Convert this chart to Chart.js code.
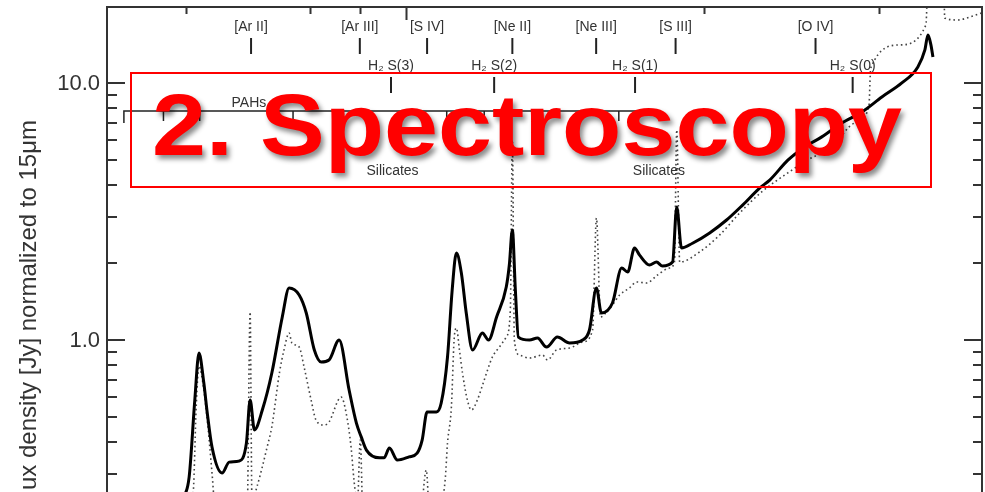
<!DOCTYPE html>
<html>
<head>
<meta charset="utf-8">
<script src="https://cdn.jsdelivr.net/npm/chart.js@4.4.1/dist/chart.umd.min.js"></script>
<style>
  html, body { margin: 0; padding: 0; background: #fff; overflow: hidden; }
  #spec { display: block; }
</style>
</head>
<body>
<canvas id="spec" width="985" height="492"></canvas>
<script>
// spectrum (wavelength in micron, flux normalized to 15 micron)
var solidWave = [5.95, 6.05, 6.13, 6.19, 6.26, 6.31, 6.38, 6.53, 6.64, 6.79, 6.91, 6.97, 7.04, 7.17, 7.33, 7.51, 7.63, 7.81, 7.94, 8.09, 8.22, 8.37, 8.57, 8.77, 8.92, 9.02, 9.13, 9.41, 9.51, 9.63, 9.81, 10.08, 10.27, 10.39, 10.51, 10.74, 10.86, 11.02, 11.14, 11.25, 11.38, 11.51, 11.68, 11.95, 12.12, 12.35, 12.63, 12.72, 12.81, 12.90, 12.99, 13.33, 13.58, 13.87, 14.22, 14.63, 15.08, 15.32, 15.57, 15.75, 16.16, 16.51, 16.74, 17.01, 17.21, 17.61, 17.90, 18.15, 18.58, 18.76, 18.97, 19.46, 20.25, 21.06, 21.86, 22.74, 23.28, 24.28, 25.25, 26.27, 27.52, 28.83, 30.20, 31.63, 32.83, 33.37, 33.61, 33.84, 34.00];
var solidFlux = [0.238, 0.293, 0.584, 0.890, 0.680, 0.520, 0.383, 0.304, 0.335, 0.338, 0.397, 0.584, 0.447, 0.534, 0.744, 1.229, 1.594, 1.497, 1.274, 0.914, 0.821, 0.836, 1.0, 0.639, 0.475, 0.420, 0.373, 0.348, 0.348, 0.380, 0.341, 0.351, 0.363, 0.408, 0.525, 0.525, 0.569, 0.859, 1.565, 2.18, 1.823, 1.274, 0.914, 1.065, 1.0, 1.229, 1.608, 1.958, 2.68, 1.565, 1.027, 1.0, 1.018, 0.939, 1.027, 0.973, 1.0, 1.094, 1.594, 1.274, 1.393, 1.905, 1.839, 2.28, 2.14, 1.958, 2.01, 1.94, 2.01, 3.29, 2.28, 2.38, 2.61, 2.93, 3.35, 3.90, 4.19, 5.01, 5.64, 6.17, 6.99, 7.71, 8.82, 10.0, 11.54, 13.44, 15.37, 14.06, 12.62];

var dotWave = [5.91, 6.11, 6.15, 6.19, 6.26, 6.32, 6.38, 6.44, 6.71, 6.92, 6.97, 7.00, 7.09, 7.17, 7.25, 7.33, 7.46, 7.54, 7.63, 7.68, 7.81, 7.90, 8.03, 8.12, 8.28, 8.37, 8.61, 8.71, 8.81, 8.87, 8.94, 9.00, 9.06, 9.63, 10.32, 10.49, 10.59, 10.81, 10.96, 11.02, 11.12, 11.19, 11.25, 11.33, 11.41, 11.54, 11.65, 11.81, 12.00, 12.23, 12.43, 12.63, 12.75, 12.81, 12.87, 13.02, 13.33, 13.74, 13.90, 14.19, 14.63, 15.08, 15.43, 15.57, 15.72, 15.94, 16.16, 16.43, 16.81, 17.09, 17.49, 17.94, 18.45, 18.66, 18.76, 18.89, 19.78, 20.72, 21.71, 22.85, 24.28, 25.42, 26.89, 28.36, 29.30, 29.43, 31.48, 33.45, 33.61, 34.86, 34.94, 36.03, 37.05, 38.08];
var dotFlux = [0.139, 0.261, 0.549, 0.792, 0.639, 0.459, 0.304, 0.199, 0.167, 0.199, 1.285, 0.238, 0.273, 0.321, 0.383, 0.459, 0.744, 0.914, 1.065, 0.973, 0.939, 0.785, 0.584, 0.489, 0.467, 0.480, 0.600, 0.520, 0.383, 0.285, 0.228, 0.408, 0.199, 0.167, 0.182, 0.312, 0.182, 0.209, 0.285, 0.397, 0.549, 1.0, 1.113, 0.914, 0.744, 0.584, 0.534, 0.584, 0.699, 0.859, 0.939, 1.027, 1.309, 6.0, 1.0, 0.874, 0.851, 0.874, 0.836, 0.914, 0.931, 0.982, 1.094, 2.98, 1.229, 1.285, 1.368, 1.497, 1.594, 1.682, 1.667, 1.790, 1.905, 2.01, 6.56, 2.01, 2.20, 2.56, 3.12, 3.77, 4.47, 5.02, 5.64, 6.99, 8.07, 11.44, 14.06, 16.82, 25.2, 25.2, 17.9, 17.58, 18.06, 18.72];

// line identifications
var ionNames = ['[Ar II]', '[Ar III]', '[S IV]', '[Ne II]', '[Ne III]', '[S III]', '[O IV]'];
var ionWave = [6.985, 8.991, 10.51, 12.81, 15.56, 18.71, 25.89];
var h2Names = ['H\u2082 S(3)', 'H\u2082 S(2)', 'H\u2082 S(1)', 'H\u2082 S(0)'];
var h2Wave = [9.665, 12.28, 17.03, 28.22];
var pahWave = [5.7, 6.2, 7.7, 8.6, 11.0, 12.0, 12.7, 16.4];
var pahRange = [5.2, 17.1];
var silWave = [9.7, 18.0];

// axis ticks
var xTicks = [6, 8, 9, 10, 20, 30];
var yMajor = [1, 10];
var yLabels = ['1.0', '10.0'];
var yMinor = [0.3, 0.4, 0.5, 0.6, 0.7, 0.8, 0.9, 2, 3, 4, 5, 6, 7, 8, 9];

function toPoints(wave, flux) {
    return wave.map(function(w, i) { return {x: w, y: flux[i]}; });
}

var font = '"Liberation Sans", Arial, Helvetica, sans-serif';

var decor = {
    id: 'decor',
    afterDatasetsDraw: function(chart) {
        var ctx = chart.ctx;
        var xs = chart.scales.x;
        var ys = chart.scales.y;
        var a = chart.chartArea;
        ctx.save();

        // frame (left, top, right)
        ctx.strokeStyle = '#333';
        ctx.lineWidth = 2;
        ctx.beginPath();
        ctx.moveTo(a.left, a.bottom + 2);
        ctx.lineTo(a.left, a.top);
        ctx.lineTo(a.right, a.top);
        ctx.lineTo(a.right, a.bottom + 2);
        ctx.stroke();

        // top ticks pointing in
        ctx.beginPath();
        xTicks.forEach(function(t) {
            var px = Math.round(xs.getPixelForValue(t)) + 0.5;
            ctx.moveTo(px, a.top);
            ctx.lineTo(px, a.top + (t === 10 ? 13 : 7));
        });
        // y ticks on both sides
        yMajor.forEach(function(v) {
            var py = Math.round(ys.getPixelForValue(v));
            ctx.moveTo(a.left, py); ctx.lineTo(a.left + 18, py);
            ctx.moveTo(a.right, py); ctx.lineTo(a.right - 18, py);
        });
        yMinor.forEach(function(v) {
            var py = Math.round(ys.getPixelForValue(v));
            ctx.moveTo(a.left, py); ctx.lineTo(a.left + 10, py);
            ctx.moveTo(a.right, py); ctx.lineTo(a.right - 9, py);
        });
        ctx.stroke();

        // y labels
        ctx.fillStyle = '#333';
        ctx.font = '22px ' + font;
        ctx.textAlign = 'right';
        ctx.textBaseline = 'middle';
        yMajor.forEach(function(v, i) {
            ctx.fillText(yLabels[i], a.left - 7, ys.getPixelForValue(v) + 1);
        });

        // y title (cut off at the bottom edge as in the picture)
        ctx.save();
        ctx.translate(29, 490);
        ctx.rotate(-Math.PI / 2);
        ctx.font = '24px ' + font;
        ctx.textAlign = 'left';
        ctx.textBaseline = 'middle';
        ctx.fillText('ux density [Jy] normalized to 15\u03bcm', 0, 0);
        ctx.restore();

        // ion lines
        ctx.font = '14px ' + font;
        ctx.textAlign = 'center';
        ctx.fillStyle = '#333';
        ctx.strokeStyle = '#222';
        ctx.lineWidth = 2;
        ionWave.forEach(function(w, i) {
            var px = xs.getPixelForValue(w);
            ctx.fillText(ionNames[i], px, 27);
            ctx.beginPath();
            ctx.moveTo(px, 38); ctx.lineTo(px, 54);
            ctx.stroke();
        });
        h2Wave.forEach(function(w, i) {
            var px = xs.getPixelForValue(w);
            ctx.fillText(h2Names[i], px, 66);
            ctx.beginPath();
            ctx.moveTo(px, 77); ctx.lineTo(px, 93);
            ctx.stroke();
        });

        // PAH bracket
        var p0 = xs.getPixelForValue(pahRange[0]);
        var p1 = xs.getPixelForValue(pahRange[1]);
        ctx.lineWidth = 1.5;
        ctx.beginPath();
        ctx.moveTo(p0, 123); ctx.lineTo(p0, 111); ctx.lineTo(p1, 111); ctx.lineTo(p1, 123);
        pahWave.forEach(function(w) {
            var px = xs.getPixelForValue(w);
            ctx.moveTo(px, 111); ctx.lineTo(px, 121);
        });
        ctx.stroke();
        ctx.fillText('PAHs', xs.getPixelForValue(6.95), 103);
        silWave.forEach(function(w) {
            ctx.fillText('Silicates', xs.getPixelForValue(w), 171);
        });

        // red banner
        ctx.strokeStyle = '#f00';
        ctx.lineWidth = 2;
        ctx.strokeRect(131, 73, 800, 114);
        ctx.font = 'bold 88px ' + font;
        ctx.textAlign = 'left';
        ctx.textBaseline = 'alphabetic';
        var txt = '2. Spectroscopy';
        var w = ctx.measureText(txt).width;
        ctx.save();
        ctx.translate(152, 155);
        ctx.scale(750 / w, 1);
        ctx.shadowColor = 'rgba(0,0,0,0.45)';
        ctx.shadowBlur = 5;
        ctx.shadowOffsetX = 3;
        ctx.shadowOffsetY = 4;
        ctx.fillStyle = '#f00';
        ctx.fillText(txt, 0, 0);
        ctx.restore();

        ctx.restore();
    }
};

new Chart(document.getElementById('spec'), {
    type: 'scatter',
    data: {
        datasets: [{
            label: 'solid',
            data: toPoints(solidWave, solidFlux),
            showLine: true,
            borderColor: '#000',
            borderWidth: 3,
            pointRadius: 0,
            cubicInterpolationMode: 'monotone',
            borderJoinStyle: 'round'
        }, {
            label: 'dotted',
            data: toPoints(dotWave, dotFlux),
            showLine: true,
            borderColor: '#444',
            borderWidth: 1.6,
            borderDash: [1.6, 3],
            pointRadius: 0,
            cubicInterpolationMode: 'monotone'
        }]
    },
    options: {
        responsive: false,
        animation: false,
        events: [],
        layout: { padding: { left: 107, right: 3, top: 7, bottom: 0 } },
        plugins: { legend: { display: false }, tooltip: { enabled: false } },
        scales: {
            x: { type: 'logarithmic', min: 5, max: 38.1, display: false },
            y: { type: 'logarithmic', min: 0.2563, max: 19.75, display: false }
        }
    },
    plugins: [decor]
});
</script>
</body>
</html>
